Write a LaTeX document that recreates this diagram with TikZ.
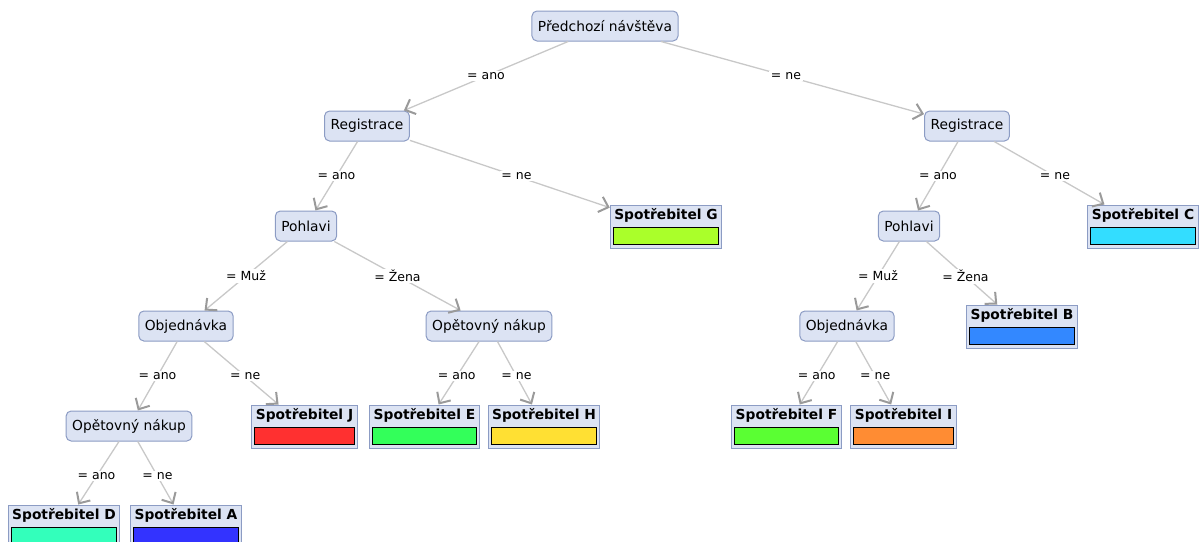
\documentclass[tikz,border=0pt]{standalone}
\usepackage{fontspec}
\setmainfont{DejaVu Sans}
\usepackage{tikz}
\usetikzlibrary{arrows.meta,calc}

\definecolor{nodefill}{HTML}{DCE3F3}
\definecolor{nodeline}{HTML}{8C9CC4}
\definecolor{edgegray}{HTML}{C8C8C8}
\definecolor{tipgray}{HTML}{9A9A9A}
\definecolor{colG}{HTML}{AAFF2A}
\definecolor{colC}{HTML}{33DDFF}
\definecolor{colB}{HTML}{3388FF}
\definecolor{colJ}{HTML}{FF3030}
\definecolor{colE}{HTML}{33FF5A}
\definecolor{colH}{HTML}{FFE033}
\definecolor{colF}{HTML}{5AFF33}
\definecolor{colI}{HTML}{FF8C33}
\definecolor{colD}{HTML}{33FFBB}
\definecolor{colA}{HTML}{3333FF}

% leaf: box with bold title and a coloured bar
\newcommand{\leaf}[4]{%
  \node[leafbox] (#1) at (#2) {#3};
  \draw[fill=#4, line width=0.9pt] ([shift={(3.5pt,4pt)}]#1.south west) rectangle ([shift={(-3.5pt,21pt)}]#1.south east);
}

\begin{document}
\begin{tikzpicture}[x=1pt, y=1pt,
  test/.style={draw=nodeline, fill=nodefill, rounded corners=5pt, line width=1pt,
    minimum height=30pt, inner xsep=6pt, font=\fontsize{13.8}{16}\selectfont},
  leafbox/.style={draw=nodeline, fill=nodefill, line width=1pt, inner xsep=4pt, inner ysep=4.5pt,
    text height=9.5pt, text depth=24.5pt, font=\fontsize{13.8}{16}\selectfont\bfseries},
  edge/.style={draw=edgegray, line width=1.3pt,
    -{Straight Barb[length=8.5pt, width=16pt, line width=2pt, color=tipgray]}},
  lbl/.style={fill=white, inner sep=1.5pt, font=\fontsize{12.5}{15}\selectfont}]

  \useasboundingbox (0,0) rectangle (1201,-541);

  %% tests
  \node[test] (root) at (605,-26) {Předchozí návštěva};
  \node[test] (regL) at (367,-126) {Registrace};
  \node[test] (regR) at (967,-126) {Registrace};
  \node[test] (pohL) at (306,-226) {Pohlavi};
  \node[test] (pohR) at (909,-226) {Pohlavi};
  \node[test] (objL) at (186,-326) {Objednávka};
  \node[test] (opaM) at (489,-326) {Opětovný nákup};
  \node[test] (objR) at (847,-326) {Objednávka};
  \node[test] (opaL) at (129,-426) {Opětovný nákup};

  %% leaves
  \leaf{G}{666,-226.5}{Spotřebitel G}{colG}
  \leaf{C}{1143,-226.5}{Spotřebitel C}{colC}
  \leaf{B}{1022,-326.5}{Spotřebitel B}{colB}
  \leaf{J}{304.5,-426.5}{Spotřebitel J}{colJ}
  \leaf{E}{424.5,-426.5}{Spotřebitel E}{colE}
  \leaf{H}{544,-426.5}{Spotřebitel H}{colH}
  \leaf{F}{786.5,-426.5}{Spotřebitel F}{colF}
  \leaf{I}{903.5,-426.5}{Spotřebitel I}{colI}
  \leaf{D}{64,-526.5}{Spotřebitel D}{colD}
  \leaf{A}{186,-526.5}{Spotřebitel A}{colA}

  %% edges with their conditions
  \foreach \a/\b/\t in {root/regL/ano, root/regR/ne, regL/pohL/ano, regL/G/ne,
      regR/pohR/ano, regR/C/ne, pohL/objL/Muž, pohL/opaM/Žena, pohR/objR/Muž, pohR/B/Žena,
      objL/opaL/ano, objL/J/ne, opaM/E/ano, opaM/H/ne, objR/F/ano, objR/I/ne,
      opaL/D/ano, opaL/A/ne} {
    \draw[edge] (\a) -- (\b);
    \node[lbl] at ($(\a)!.5!(\b)$) {= \t};
  }

\end{tikzpicture}
\end{document}
